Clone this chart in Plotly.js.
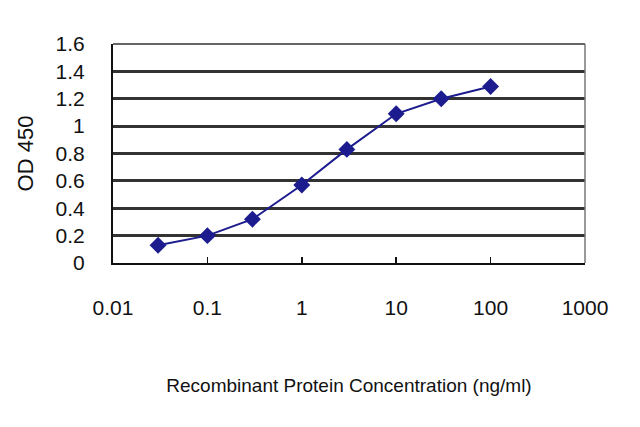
<!DOCTYPE html>
<html>
<head>
<meta charset="utf-8">
<script src="https://cdn.plot.ly/plotly-3.0.1.min.js"></script>
<style>html,body{margin:0;padding:0;background:#fff;}#chart{width:640px;height:427px;}</style>
</head>
<body>
<div id="chart"></div>
<script>
const concentrations = [0.03, 0.1, 0.3, 1, 3, 10, 30, 100];
const od450 = [0.13, 0.2, 0.32, 0.57, 0.83, 1.09, 1.2, 1.29];
const xTickVals = [0.01, 0.1, 1, 10, 100, 1000];
const xTickText = ["0.01", "0.1", "1", "10", "100", "1000"];
const yTickVals = [0, 0.2, 0.4, 0.6, 0.8, 1, 1.2, 1.4, 1.6];
const yTickText = ["0", "0.2", "0.4", "0.6", "0.8", "1", "1.2", "1.4", "1.6"];

const font = "Liberation Sans, Arial, sans-serif";

Plotly.newPlot("chart", [{
  x: concentrations,
  y: od450,
  type: "scatter",
  mode: "lines+markers",
  line: {color: "#1c1c8e", width: 2},
  marker: {symbol: "diamond", size: 13, color: "#1c1c8e"},
  showlegend: false
}], {
  width: 640, height: 427,
  margin: {l: 113, r: 55, t: 44, b: 164},
  paper_bgcolor: "#fff", plot_bgcolor: "#fff",
  font: {family: font, color: "#111"},
  xaxis: {
    type: "log", range: [-2, 3],
    tickvals: xTickVals, ticktext: xTickText,
    ticks: "inside", ticklen: 6, tickwidth: 1.5, tickcolor: "#111",
    ticklabelstandoff: 25,
    tickfont: {size: 21, family: font, color: "#111"},
    showgrid: false, zeroline: false,
    showline: true, linecolor: "#111", linewidth: 2,
    title: {text: "Recombinant Protein Concentration (ng/ml)", font: {size: 19, family: font, color: "#111"}, standoff: 60}
  },
  yaxis: {
    range: [0, 1.6],
    tickvals: yTickVals, ticktext: yTickText,
    ticks: "", ticklabelstandoff: 22,
    tickfont: {size: 21, family: font, color: "#111"},
    showgrid: true, gridcolor: "#333", gridwidth: 3,
    zeroline: false,
    showline: true, linecolor: "#111", linewidth: 2,
    title: {text: "OD 450", font: {size: 22, family: font, color: "#111"}, standoff: 16}
  },
  shapes: [
    {type: "line", xref: "paper", yref: "paper", x0: 1, x1: 1, y0: 0, y1: 1, line: {color: "#777", width: 1.5}},
    {type: "line", xref: "paper", yref: "paper", x0: 0, x1: 1, y0: 1, y1: 1, line: {color: "#666", width: 2}}
  ]
}, {staticPlot: true});
</script>
</body>
</html>
